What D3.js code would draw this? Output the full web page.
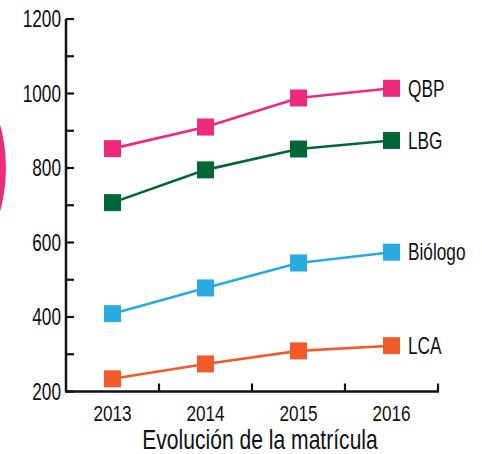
<!DOCTYPE html>
<html>
<head>
<meta charset="utf-8">
<script src="https://cdn.jsdelivr.net/npm/d3@7"></script>
<style>
  html, body { margin: 0; padding: 0; background: #fff; }
  svg { display: block; }
  text { font-family: "Liberation Sans", Arial, sans-serif; fill: #111; }
</style>
</head>
<body>
<svg id="chart" width="482" height="454"></svg>
<script>
const years = ["2013", "2014", "2015", "2016"];
const seriesNames = ["QBP", "LBG", "Biólogo", "LCA"];
const qbp = [852, 910, 988, 1014];
const lbg = [707, 795, 851, 874];
const biologo = [409, 478, 545, 574];
const lca = [234, 274, 309, 323];
const colors = ["#EE2A7B", "#006838", "#29ABE2", "#F15A29"];
const yTicks = [200, 400, 600, 800, 1000, 1200];
const yMinorTicks = [300, 500, 700, 900, 1100];
const xTitle = "Evolución de la matrícula";

const series = [qbp, lbg, biologo, lca].map((vals, i) => ({ name: seriesNames[i], values: vals, color: colors[i] }));

const svg = d3.select("#chart");

function ctext(parent, tx, ty, str, size, anchor, dy, sx) {
  const t = parent.append("g").attr("transform", `translate(${tx},${ty}) scale(${sx || 0.75},1)`)
    .append("text").attr("text-anchor", anchor).attr("font-size", size).text(str);
  if (dy) t.attr("dy", dy);
  return t;
}

// decorative pink circle at left edge
svg.append("circle").attr("cx", -155).attr("cy", 168).attr("r", 161).attr("fill", "#EE2A7B");

const x = d3.scaleBand().domain(years).range([66, 438]);
const y = d3.scaleLinear().domain([200, 1200]).range([391.5, 19]);

// Y axis
const yAxis = svg.append("g").attr("transform", "translate(66,0)");
yAxis.append("line").attr("x1", 0).attr("x2", 0).attr("y1", y(1200)).attr("y2", y(200)).attr("stroke", "#111").attr("stroke-width", 2.5);
yAxis.selectAll("line.maj").data(yTicks.concat(yMinorTicks)).join("line")
  .attr("class", "maj")
  .attr("x1", 0).attr("x2", 8)
  .attr("y1", d => y(d)).attr("y2", d => y(d))
  .attr("stroke", "#111").attr("stroke-width", 2.2);
yTicks.forEach(d => ctext(yAxis, -5, y(d), d, 23, "end", "0.36em"));

// X axis
const xAxis = svg.append("g").attr("transform", `translate(0,${y(200)})`);
xAxis.append("line").attr("x1", 65).attr("x2", 439).attr("y1", 0).attr("y2", 0).attr("stroke", "#111").attr("stroke-width", 2.5);
const bounds = years.slice(1).map(d => x(d)).concat([x.range()[1]]);
xAxis.selectAll("line.t").data(bounds).join("line")
  .attr("class", "t")
  .attr("x1", d => d).attr("x2", d => d).attr("y1", 0).attr("y2", -8)
  .attr("stroke", "#111").attr("stroke-width", 2.2);
years.forEach(d => ctext(xAxis, x(d) + x.bandwidth() / 2, 29.5, d, 22, "middle", null, 0.78));

ctext(svg, 260, 449, xTitle, 28.5, "middle", null, 0.74);

const cx = d => x(d) + x.bandwidth() / 2;
const line = d3.line().x((v, i) => cx(years[i])).y(v => y(v));

const g = svg.append("g");
series.forEach(s => {
  g.append("path").attr("d", line(s.values)).attr("fill", "none")
    .attr("stroke", s.color).attr("stroke-width", 2.6);
  g.selectAll(null).data(s.values).join("rect")
    .attr("x", (v, i) => cx(years[i]) - 8.5).attr("y", v => y(v) - 8.5)
    .attr("width", 17).attr("height", 17).attr("fill", s.color);
  const last = s.values[s.values.length - 1];
  ctext(g, cx(years[3]) + 16.5, y(last), s.name, 23, "start", "0.36em");
});
</script>
</body>
</html>
